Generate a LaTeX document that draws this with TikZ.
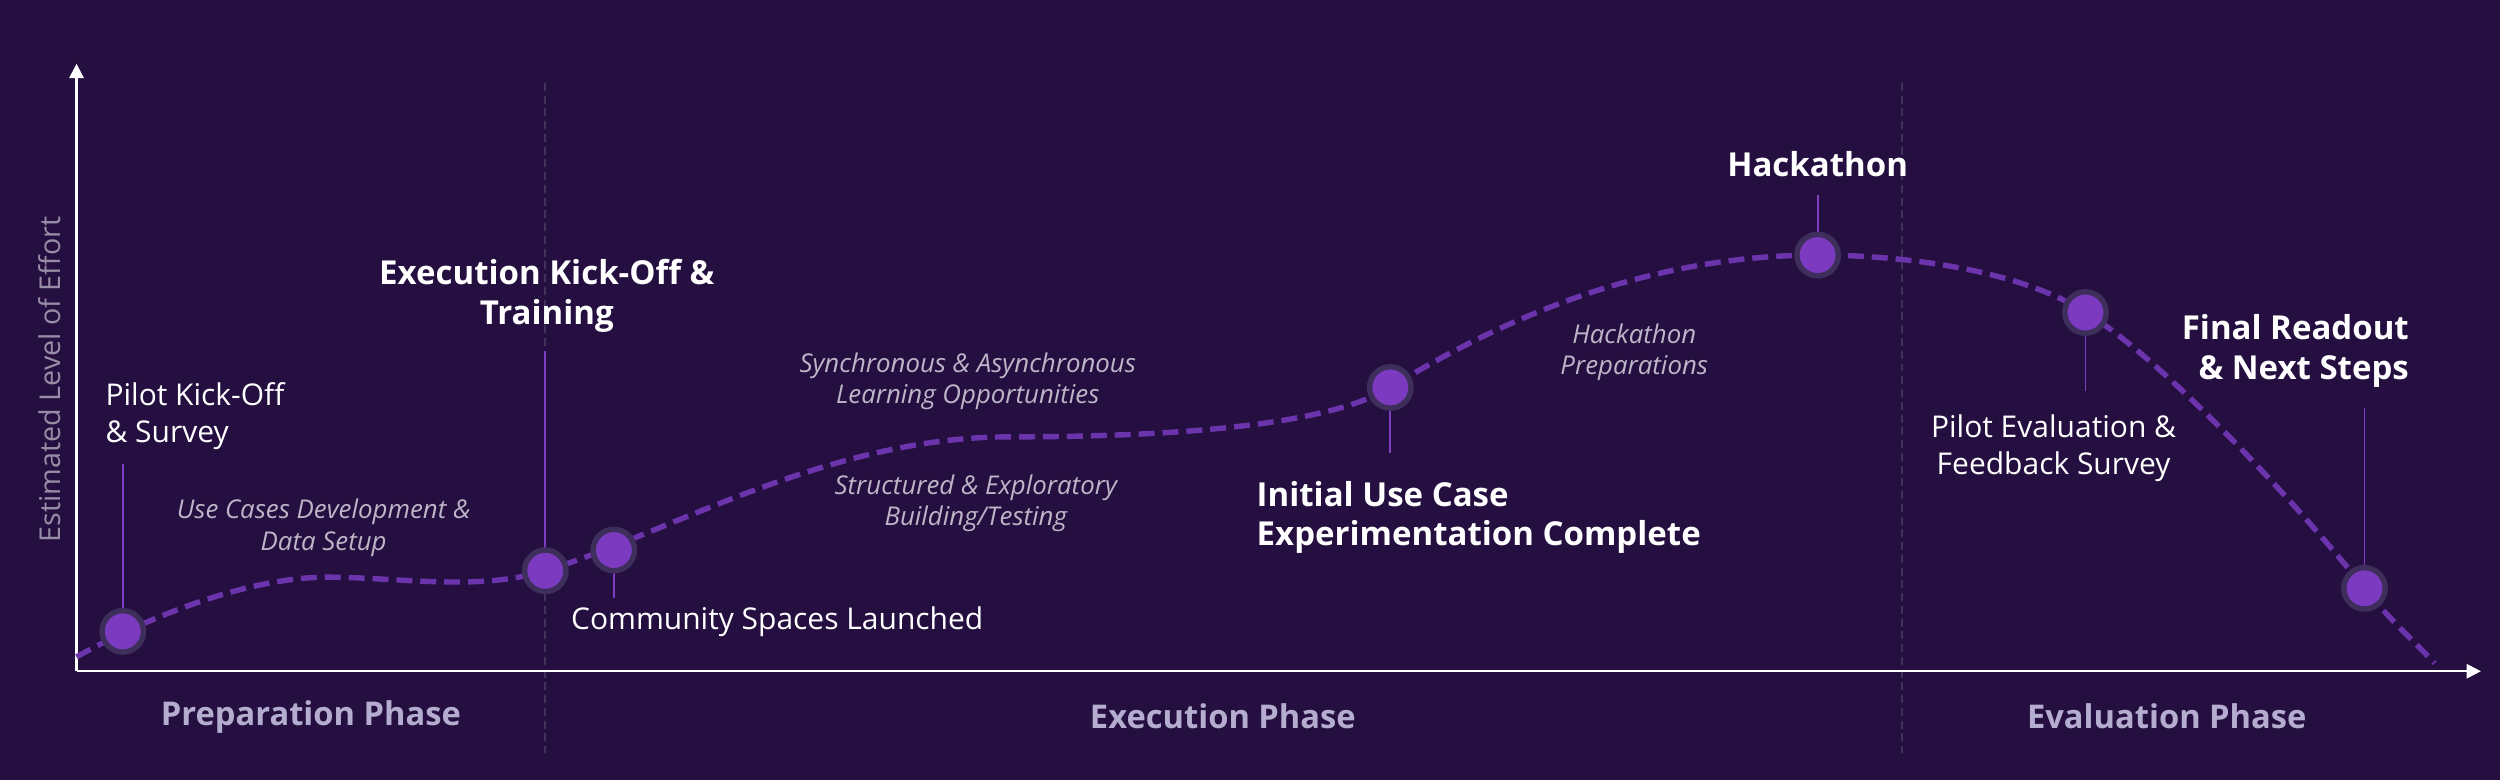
\documentclass[tikz,border=0pt]{standalone}
\usepackage{fontspec}
\setmainfont{Open Sans}
\usetikzlibrary{arrows.meta}
\definecolor{bg}{HTML}{250F40}
\definecolor{ring}{HTML}{3D2E5B}
\definecolor{dot}{HTML}{7B3AC0}
\definecolor{curve}{HTML}{6C34AC}
\definecolor{stem}{HTML}{7E3DC0}
\definecolor{divider}{HTML}{403259}
\definecolor{ital}{HTML}{BDB5C8}
\definecolor{phase}{HTML}{B5ADD0}
\definecolor{ylab}{HTML}{978DA6}
\tikzset{
  milestone/.style={circle, fill=dot, draw=ring, line width=3.4pt, minimum size=26pt, inner sep=0pt},
  stemline/.style={draw=stem, line width=1.2pt},
  axisline/.style={draw=white, line width=1.3pt},
  divline/.style={draw=divider, line width=1.2pt, dash pattern=on 5pt off 3pt},
  curveline/.style={draw=curve, line width=3.4pt, dash pattern=on 10pt off 5pt},
  reglabel/.style={text=white, font=\fontsize{18.8}{23}\selectfont, inner sep=0pt},
  boldlabel/.style={text=white, font=\fontsize{20.7}{25}\selectfont\bfseries, inner sep=0pt},
  itallabel/.style={text=ital, font=\fontsize{16.2}{19.5}\selectfont\itshape, inner sep=0pt, align=center},
  phaselabel/.style={text=phase, font=\fontsize{20.5}{25}\selectfont\bfseries, inner sep=0pt},
}
\begin{document}
\begin{tikzpicture}[x=1pt,y=-1pt]
\fill[bg] (0,0) rectangle (1568,489);
\useasboundingbox (0,0) rectangle (1568,489);
% dividers
\coordinate (d1t) at (342,52); \coordinate (d1b) at (342,472);
\coordinate (d2t) at (1193,52); \coordinate (d2b) at (1193,472);
\draw[divline] (d1t) -- (d1b);
\draw[divline] (d2t) -- (d2b);
% axes
\coordinate (origin) at (48,421);
\coordinate (ytop) at (48,40);
\coordinate (xend) at (1556,421);
\draw[axisline, -{Triangle[length=9pt,width=9pt]}] (origin) -- (ytop);
\draw[axisline, -{Triangle[length=9pt,width=9pt]}] (origin) -- (xend);
% milestone positions
\coordinate (m1) at (77,396);
\coordinate (m2) at (342,358);
\coordinate (m3) at (385,345);
\coordinate (m4) at (872,243);
\coordinate (m5) at (1140,160);
\coordinate (m6) at (1308,196);
\coordinate (m7) at (1483,369);
\coordinate (cs) at (48,412);
\coordinate (ce) at (1527,416);
% curve
\draw[curveline] (cs) .. controls (100,383) and (160,362) .. (205,362)
  .. controls (250,362) and (300,371) .. (m2)
  .. controls (420,334) and (520,274) .. (633,274)
  .. controls (720,274) and (830,269) .. (m4)
  .. controls (950,195) and (1040,160) .. (m5)
  .. controls (1200,160) and (1270,171) .. (m6)
  .. controls (1355,224) and (1440,315) .. (m7)
  .. controls (1500,390) and (1515,403) .. (ce);
% stems
\coordinate (s1) at (77,291);
\coordinate (s2) at (342,220);
\coordinate (s3) at (385,375);
\coordinate (s4) at (872,284);
\coordinate (s5) at (1140,122);
\coordinate (s6) at (1308,245);
\coordinate (s7) at (1483,256);
\draw[stemline] (s1) -- (m1);
\draw[stemline] (s2) -- (m2);
\draw[stemline] (s3) -- (m3);
\draw[stemline] (s4) -- (m4);
\draw[stemline] (s5) -- (m5);
\draw[stemline] (s6) -- (m6);
\draw[stemline] (s7) -- (m7);
% milestones
\node[milestone] (n1) at (m1) {};
\node[milestone] (n2) at (m2) {};
\node[milestone] (n3) at (m3) {};
\node[milestone] (n4) at (m4) {};
\node[milestone] (n5) at (m5) {};
\node[milestone] (n6) at (m6) {};
\node[milestone] (n7) at (m7) {};
% labels
\node[reglabel, anchor=west, align=left] (l1) at (66,261) {Pilot Kick-Off\\\& Survey};
\node[boldlabel, align=center] (l2) at (343,185.5) {Execution Kick-Off \&\\Training};
\node[reglabel, anchor=west] (l3) at (358,390) {Community Spaces Launched};
\node[boldlabel, anchor=west, align=left] (l4) at (788,324.5) {Initial Use Case\\Experimentation Complete};
\node[boldlabel] (l5) at (1140,103) {Hackathon};
\node[reglabel, align=center] (l6) at (1288,281) {Pilot Evaluation \&\\Feedback Survey};
\node[boldlabel, anchor=east, align=right] (l7) at (1511,220) {Final Readout\\\& Next Steps};
% italic annotations
\node[itallabel] (i1) at (203,331) {Use Cases Development \&\\Data Setup};
\node[itallabel] (i2) at (607,239) {Synchronous \& Asynchronous\\Learning Opportunities};
\node[itallabel] (i3) at (612,315.5) {Structured \& Exploratory\\Building/Testing};
\node[itallabel] (i4) at (1025,221) {Hackathon\\Preparations};
% phases
\node[phaselabel] (p1) at (195,449.5) {Preparation Phase};
\node[phaselabel] (p2) at (767,449.5) {Execution Phase};
\node[phaselabel] (p3) at (1359,449.5) {Evaluation Phase};
% y-axis label
\node[text=ylab, font=\fontsize{18}{20}\selectfont, rotate=90, inner sep=0pt] (yl) at (31,238) {Estimated Level of Effort};
\end{tikzpicture}
\end{document}
